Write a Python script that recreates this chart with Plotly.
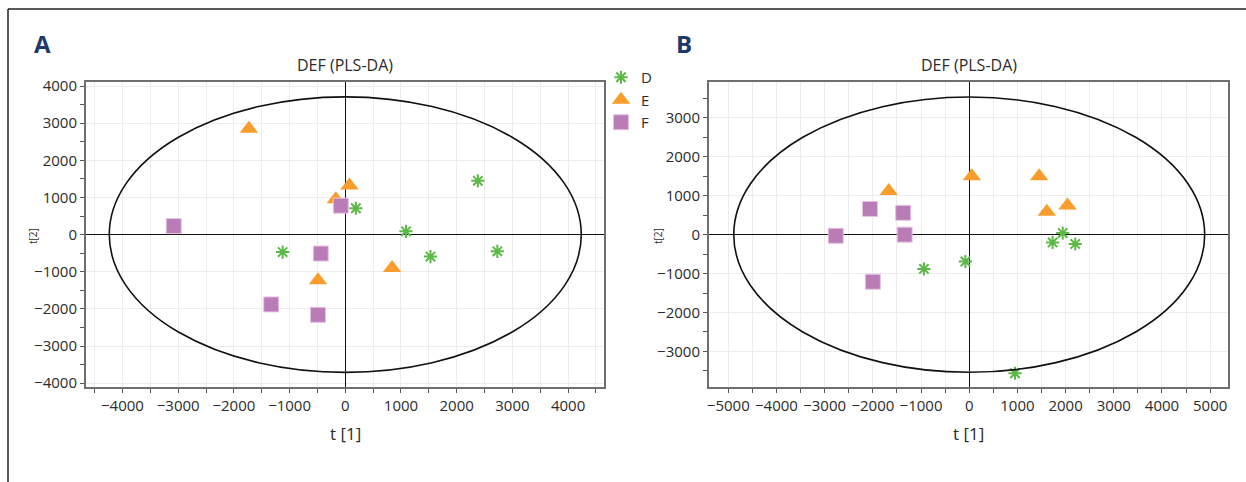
import plotly.graph_objects as go

# ---------------- data ----------------
# Panel A scores (t[1], t[2])
A_D_x = [190, 1090, -1125, 1530, 2730, 2380]
A_D_y = [710, 90, -470, -590, -450, 1450]
A_E_x = [-1730, 75, -170, -490, 840]
A_E_y = [2850, 1320, 950, -1230, -900]
A_F_x = [-80, -3080, -440, -1330, -490]
A_F_y = [780, 230, -510, -1880, -2160]

# Panel B scores
B_D_x = [1940, 1730, 2200, -80, 950, -940]
B_D_y = [40, -200, -240, -690, -3560, -880]
B_E_x = [-1670, 55, 1450, 1610, 2040]
B_E_y = [1120, 1500, 1500, 585, 750]
B_F_x = [-2060, -1370, -2770, -1340, -2000]
B_F_y = [660, 560, -30, 0, -1210]

# Hotelling T2 ellipse semi-axes (t1, t2)
ELL_A = (4237, 3710)
ELL_B = (4886, 3535)

group_names = ["D", "E", "F"]
panel_titles = ["DEF (PLS-DA)", "DEF (PLS-DA)"]
panel_letters = ["A", "B"]
x_label = "t [1]"
y_label = "t[2]"

# ---------------- style ----------------
W, H = 1246, 482
FONT = "Open Sans, Liberation Sans, sans-serif"
TXT = "#2b2b2b"
GREEN = "#5cb946"
ORANGE = "#f89d2b"
PURPLE = "#b97cb7"

def px(v):
    return v / W

def py(v):
    return 1 - v / H

fig = go.Figure()

def add_group(xs, ys, name, xa, ya, show):
    if name == "D":
        marker = dict(symbol="asterisk-open", size=11, color=GREEN,
                      line=dict(color=GREEN, width=2))
    elif name == "E":
        marker = dict(symbol="triangle-up", size=16, color=ORANGE, line=dict(width=0))
    else:
        marker = dict(symbol="square", size=15, color=PURPLE,
                      line=dict(color="#e7c3e4", width=1))
    fig.add_trace(go.Scatter(x=xs, y=ys, mode="markers", name=name,
                             marker=marker, xaxis=xa, yaxis=ya,
                             showlegend=show, legendgroup=name))

for (xs, ys), n in zip([(A_D_x, A_D_y), (A_E_x, A_E_y), (A_F_x, A_F_y)], group_names):
    add_group(xs, ys, n, "x", "y", True)
for (xs, ys), n in zip([(B_D_x, B_D_y), (B_E_x, B_E_y), (B_F_x, B_F_y)], group_names):
    add_group(xs, ys, n, "x2", "y2", False)

common_x = dict(
    automargin=False,
    showline=True, mirror=True, linecolor="#6e6e6e", linewidth=2,
    showgrid=True, gridcolor="#ececec", gridwidth=1,
    zeroline=True, zerolinecolor="#111111", zerolinewidth=1,
    ticks="outside", ticklen=4, tickcolor="#555555", tickwidth=1,
    dtick=1000, tick0=0, tickangle=0,
    minor=dict(dtick=500, tick0=0, ticks="outside", ticklen=4,
               tickcolor="#555555", showgrid=True, gridcolor="#ececec"),
    tickfont=dict(family=FONT, size=15, color=TXT),
)
common_y = dict(
    automargin=False,
    showline=True, mirror=True, linecolor="#6e6e6e", linewidth=2,
    showgrid=True, gridcolor="#ececec", gridwidth=1,
    zeroline=True, zerolinecolor="#111111", zerolinewidth=1,
    ticks="outside", ticklen=4, tickcolor="#555555", tickwidth=1,
    dtick=1000, tick0=0,
    minor=dict(dtick=500, tick0=0, ticks="outside", ticklen=4,
               tickcolor="#555555", showgrid=False),
    tickfont=dict(family=FONT, size=15, color=TXT),
)

ydom = [py(386.5), py(82)]
fig.update_layout(
    width=W, height=H,
    margin=dict(l=0, r=0, t=0, b=0, pad=0, autoexpand=False),
    paper_bgcolor="white", plot_bgcolor="white",
    font=dict(family=FONT, color=TXT),
    xaxis=dict(domain=[px(86), px(604)], range=[-4655, 4645], anchor="y", **common_x),
    yaxis=dict(domain=ydom, range=[-4090, 4110], anchor="x", **common_y),
    xaxis2=dict(domain=[px(709), px(1228)], range=[-5400, 5370], anchor="y2", **common_x),
    yaxis2=dict(domain=ydom, range=[-3900, 3920], anchor="x2", **common_y),
    legend=dict(x=px(601), y=py(61), xanchor="left", yanchor="top",
                font=dict(family=FONT, size=15, color=TXT),
                bgcolor="rgba(0,0,0,0)", tracegroupgap=0, itemwidth=30),
    showlegend=True,
)

shapes = []
for (a, b), xr, yr in [(ELL_A, "x", "y"), (ELL_B, "x2", "y2")]:
    shapes.append(dict(type="circle", xref=xr, yref=yr, x0=-a, x1=a, y0=-b, y1=b,
                       line=dict(color="#111111", width=1.6), layer="above"))
# outer frame (top and left)
shapes.append(dict(type="line", xref="paper", yref="paper", x0=px(8), x1=1, y0=py(9), y1=py(9),
                   line=dict(color="#222222", width=1.5)))
shapes.append(dict(type="line", xref="paper", yref="paper", x0=px(8), x1=px(8), y0=py(9), y1=0,
                   line=dict(color="#222222", width=1.5)))
fig.update_layout(shapes=shapes)

ann = []
for cx, title, letter, lx, ylx in [(345, panel_titles[0], panel_letters[0], 42, 33),
                                   (968.5, panel_titles[1], panel_letters[1], 684, 658)]:
    ann.append(dict(x=px(cx), y=py(65), xref="paper", yref="paper", text=title,
                    showarrow=False, xanchor="center", yanchor="middle",
                    font=dict(family=FONT, size=16, color=TXT)))
    ann.append(dict(x=px(cx), y=py(433), xref="paper", yref="paper", text=x_label,
                    showarrow=False, xanchor="center", yanchor="middle",
                    font=dict(family=FONT, size=17, color=TXT)))
    ann.append(dict(x=px(ylx), y=py(236), xref="paper", yref="paper", text=y_label,
                    showarrow=False, xanchor="center", yanchor="middle", textangle=-90,
                    font=dict(family=FONT, size=10, color=TXT)))
    ann.append(dict(x=px(lx), y=py(43), xref="paper", yref="paper",
                    text="<b>" + letter + "</b>",
                    showarrow=False, xanchor="center", yanchor="middle",
                    font=dict(family=FONT, size=24, color="#1b3a6b")))
fig.update_layout(annotations=ann)

fig.write_html("out.html", config={"displayModeBar": False},
               post_script="document.body.style.margin='0';document.body.style.padding='0';")
